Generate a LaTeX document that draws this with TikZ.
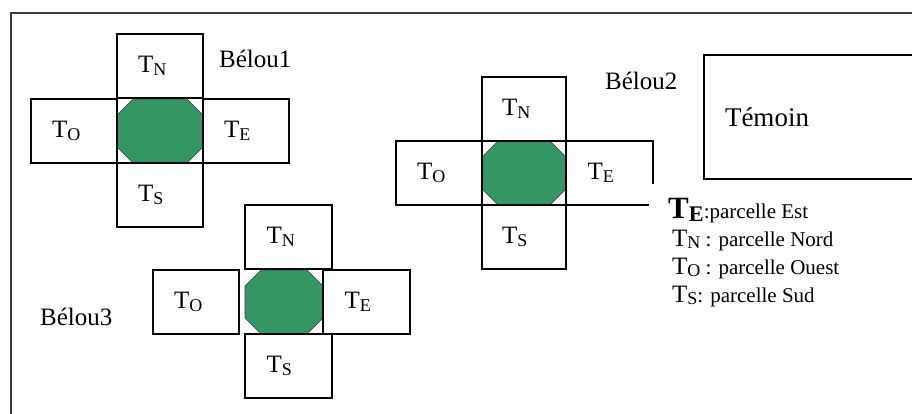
\documentclass[tikz,border=0pt]{standalone}
\usepackage{fontspec}
\setmainfont{Liberation Serif}
\definecolor{vertbelou}{RGB}{51,150,100}
\definecolor{grisbord}{RGB}{60,60,60}
\newcommand{\tsub}[1]{\raisebox{-0.1em}{\scalebox{0.72}{#1}}}
% octogone vert dans la case centrale
\newcommand{\octogone}[1]{%
  \filldraw[octo] ([xshift=16pt]#1.north west) -- ([xshift=-16pt]#1.north east)
    -- ([yshift=-16pt]#1.north east) -- ([yshift=16pt]#1.south east)
    -- ([xshift=-16pt]#1.south east) -- ([xshift=16pt]#1.south west)
    -- ([yshift=16pt]#1.south west) -- ([yshift=-16pt]#1.north west) -- cycle;}
\tikzset{
  parcelle/.style={draw, line width=1.2pt, minimum width=86pt, minimum height=64pt,
    inner sep=0pt, outer sep=0pt, anchor=north west, text width=44pt, align=left,
    font=\fontsize{25}{30}\selectfont},
  centre/.style={minimum width=86pt, minimum height=64pt, inner sep=0pt, outer sep=0pt,
    anchor=north west},
  octo/.style={fill=vertbelou, draw=grisbord, line width=0.6pt},
  trait/.style={line width=1.2pt},
  cadre/.style={draw=grisbord, line width=1.6pt},
  etiquette/.style={anchor=base west, inner sep=0pt, font=\fontsize{25}{30}\selectfont},
  legende/.style={anchor=base west, inner sep=0pt, font=\fontsize{21}{25}\selectfont}
}
\begin{document}
\begin{tikzpicture}[x=1pt, y=-1pt]
    \useasboundingbox (0,0) rectangle (912,414);
    \clip (0,0) rectangle (912,414);
    % cadre general
    \draw[cadre] (11,13) rectangle (940,440);

    % Belou1
    \node[centre] (c1) at (117,99) {};
    \octogone{c1}
    \node[parcelle] (n1) at (117,34) {T\tsub{N}};
    \node[parcelle] (o1) at (31,99) {T\tsub{O}};
    \node[parcelle] (e1) at (203,99) {T\tsub{E}};
    \node[parcelle] (s1) at (117,163) {T\tsub{S}};
    \node[etiquette] (b1) at (219,68) {Bélou1};

    % Belou2
    \node[centre, minimum width=84pt] (c2) at (482,141) {};
    \octogone{c2}
    \node[parcelle, minimum width=84pt] (n2) at (482,77) {T\tsub{N}};
    \node[parcelle] (o2) at (396,141) {T\tsub{O}};
    \node[parcelle, draw=none, minimum width=87pt] (e2) at (566,141) {T\tsub{E}};
    \draw[trait] ([xshift=-4pt]e2.south east) -- (e2.south west) -- (e2.north west)
        -- (e2.north east) -- ([yshift=21pt]e2.south east);
    \node[parcelle, minimum width=84pt] (s2) at (482,205) {T\tsub{S}};
    \node[etiquette] (b2) at (605,90) {Bélou2};

    % Belou3
    \node[centre, minimum width=78pt] (c3) at (245,270) {};
    \octogone{c3}
    \node[parcelle, minimum width=87pt] (n3) at (245,205) {T\tsub{N}};
    \node[parcelle] (o3) at (153,270) {T\tsub{O}};
    \node[parcelle, minimum width=87pt] (e3) at (323,270) {T\tsub{E}};
    \node[parcelle, minimum width=87pt] (s3) at (245,334) {T\tsub{S}};
    \node[etiquette] (b3) at (40,325) {Bélou3};

    % temoin
    \node[parcelle, minimum width=236pt, minimum height=124pt, text width=194pt,
        font=\fontsize{27}{32}\selectfont] (tem) at (704,55) {Témoin};

    % legende
    \node[legende] (leg1) at (668,218) {{\fontsize{31}{36}\selectfont\bfseries T\tsub{E}}:parcelle Est};
    \node[legende] (leg2) at (672,246) {{\fontsize{25}{30}\selectfont T\tsub{N}} : parcelle Nord};
    \node[legende] (leg3) at (672,274) {{\fontsize{25}{30}\selectfont T\tsub{O}} : parcelle Ouest};
    \node[legende] (leg4) at (672,302) {{\fontsize{25}{30}\selectfont T\tsub{S}}: parcelle Sud};
\end{tikzpicture}
\end{document}
